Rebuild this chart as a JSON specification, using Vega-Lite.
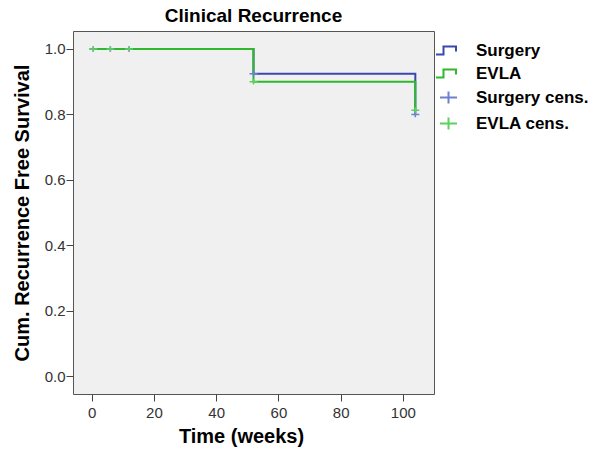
{
  "$schema": "https://vega.github.io/schema/vega-lite/v6.json",
  "width": 361,
  "height": 363,
  "autosize": {"type": "none"},
  "padding": {"left": 73, "top": 31, "right": 160, "bottom": 60},
  "background": "white",
  "title": {"text": "Clinical Recurrence", "font": "Liberation Sans", "fontSize": 19, "fontWeight": "bold", "color": "black", "offset": 5},
  "config": {
    "view": {"fill": "#f0f0f0", "stroke": "#555555", "strokeWidth": 1},
    "axis": {"labelFont": "Liberation Sans", "labelFontSize": 15, "labelColor": "#333333", "titleFont": "Liberation Sans", "titleFontSize": 20, "titleFontWeight": "bold", "titleColor": "black", "grid": false, "domain": false, "tickColor": "#444444", "tickSize": 7}
  },
  "data": {"values": [
    {"series": "Surgery", "kind": "line", "time": 0, "surv": 1.0},
    {"series": "Surgery", "kind": "line", "time": 52, "surv": 0.924},
    {"series": "Surgery", "kind": "line", "time": 104, "surv": 0.80},
    {"series": "EVLA", "kind": "line", "time": 0, "surv": 1.0},
    {"series": "EVLA", "kind": "line", "time": 52, "surv": 0.90},
    {"series": "EVLA", "kind": "line", "time": 104, "surv": 0.813},
    {"series": "Surgery cens.", "kind": "cens", "time": 0.5, "surv": 1.0},
    {"series": "Surgery cens.", "kind": "cens", "time": 6, "surv": 1.0},
    {"series": "Surgery cens.", "kind": "cens", "time": 12, "surv": 1.0},
    {"series": "Surgery cens.", "kind": "cens", "time": 52, "surv": 0.924},
    {"series": "Surgery cens.", "kind": "cens", "time": 104, "surv": 0.80},
    {"series": "EVLA cens.", "kind": "cens", "time": 0.5, "surv": 1.0},
    {"series": "EVLA cens.", "kind": "cens", "time": 6, "surv": 1.0},
    {"series": "EVLA cens.", "kind": "cens", "time": 12, "surv": 1.0},
    {"series": "EVLA cens.", "kind": "cens", "time": 52, "surv": 0.90},
    {"series": "EVLA cens.", "kind": "cens", "time": 104, "surv": 0.813}
  ]},
  "encoding": {
    "x": {"field": "time", "type": "quantitative", "title": "Time (weeks)", "scale": {"domain": [-6, 110], "nice": false, "zero": false}, "axis": {"values": [0, 20, 40, 60, 80, 100], "titlePadding": 6, "labelPadding": 4, "titleX": 168}},
    "y": {"field": "surv", "type": "quantitative", "title": "Cum. Recurrence Free Survival", "scale": {"domain": [-0.055, 1.055], "nice": false, "zero": false}, "axis": {"values": [0, 0.2, 0.4, 0.6, 0.8, 1.0], "format": ".1f", "titlePadding": 12, "labelPadding": 1}},
    "color": {"field": "series", "type": "nominal", "scale": {"domain": ["Surgery", "EVLA", "Surgery cens.", "EVLA cens."], "range": ["#3848ac", "#2eb82e", "#6f80d2", "#5fcf5f"]},
      "legend": {"title": null, "orient": "none", "legendX": 367, "legendY": 11, "labelFont": "Liberation Sans", "labelFontWeight": "bold", "labelFontSize": 17, "labelColor": "black", "symbolSize": 100, "symbolStrokeWidth": 2, "rowPadding": 5, "labelOffset": 19, "padding": 0}}
  },
  "layer": [
    {
      "transform": [{"filter": "datum.kind == 'line'"}],
      "mark": {"type": "line", "interpolate": "step-after", "strokeWidth": 2},
      "encoding": {"order": {"field": "time", "type": "quantitative"}, "detail": {"field": "series"}}
    },
    {
      "transform": [{"filter": "datum.kind == 'cens'"}],
      "mark": {"type": "point", "filled": false, "size": 22, "strokeWidth": 1.5, "opacity": 1},
      "encoding": {
        "shape": {"field": "series", "type": "nominal", "scale": {"domain": ["Surgery", "EVLA", "Surgery cens.", "EVLA cens."], "range": ["M-2.5,0.8H-1V-0.8H1.5V0.2", "M-2.5,0.8H-1V-0.8H1.5V0.2", "M-1.7,0H1.7M0,-1.2V1.2", "M-1.7,0H1.7M0,-1.2V1.2"]}}
      }
    }
  ]
}
